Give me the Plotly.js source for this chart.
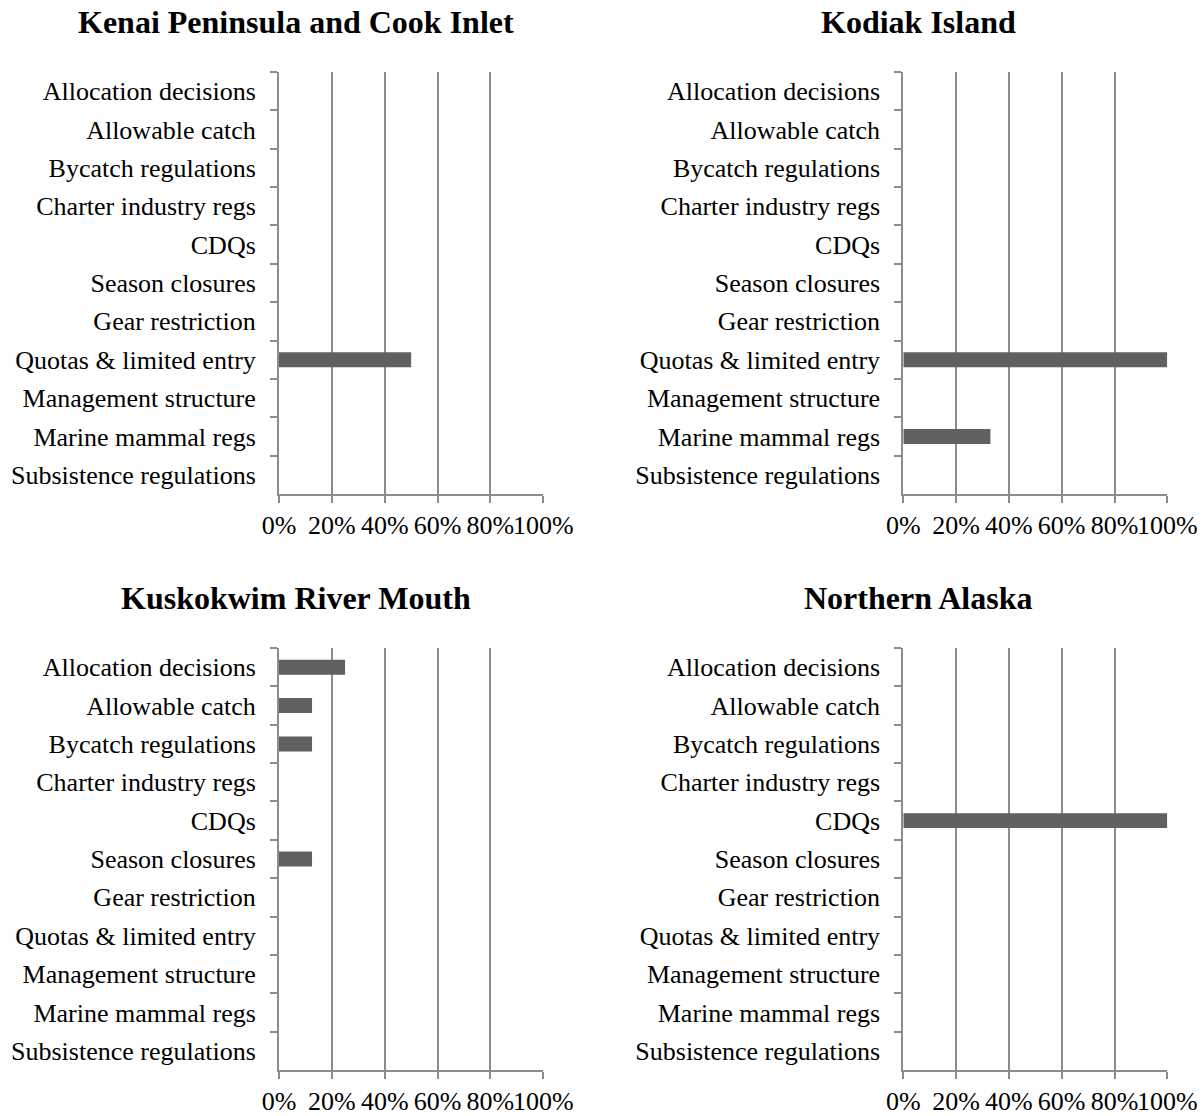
<!DOCTYPE html>
<html>
<head>
<meta charset="utf-8">
<script src="https://cdn.plot.ly/plotly-3.0.1.min.js"></script>
<style>html,body{margin:0;padding:0;background:#fff;}#chart{width:1204px;height:1116px;}</style>
</head>
<body>
<div id="chart"></div>
<script>
const categories = ["Allocation decisions","Allowable catch","Bycatch regulations","Charter industry regs","CDQs","Season closures","Gear restriction","Quotas & limited entry","Management structure","Marine mammal regs","Subsistence regulations"];
const panelTitles = ["Kenai Peninsula and Cook Inlet","Kodiak Island","Kuskokwim River Mouth","Northern Alaska"];
const kenai    = [0,0,0,0,0,0,0,0.50,0,0,0];
const kodiak   = [0,0,0,0,0,0,0,1.00,0,0.33,0];
const kusk     = [0.25,0.125,0.125,0,0,0.125,0,0,0,0,0];
const northern = [0,0,0,0,1.00,0,0,0,0,0,0];
const xTickVals = [0,0.2,0.4,0.6,0.8,1.0];
const xTickText = ["0%","20%","40%","60%","80%","100%"];

const series = [kenai, kodiak, kusk, northern];
const W = 1204, H = 1116;
const xDomains = [[279/W, 543.3/W],[903.3/W, 1167.3/W],[279/W, 543.3/W],[903.3/W, 1167.3/W]];
const yDomains = [[1-494/H, 1-72/H],[1-494/H, 1-72/H],[1-1070/H, 1-648/H],[1-1070/H, 1-648/H]];
const titleX = [296/W, 918/W, 296/W, 918/W];
const titleY = [1-22/H, 1-22/H, 1-598/H, 1-598/H];

const font = {family: "Liberation Serif, 'Times New Roman', serif", size: 26, color: "#000"};
const gridC = "#8c8c8c";
const data = [];
const layout = {
  width: W, height: H,
  margin: {l:0, r:0, t:0, b:0},
  paper_bgcolor: "#fff", plot_bgcolor: "#fff",
  showlegend: false,
  font: font,
  bargap: 0.61,
  annotations: []
};
series.forEach((vals, i) => {
  const n = i === 0 ? "" : String(i+1);
  data.push({
    type: "bar", orientation: "h",
    x: vals, y: categories,
    xaxis: "x" + n, yaxis: "y" + n,
    marker: {color: "#606060"},
    hoverinfo: "skip"
  });
  layout["xaxis" + n] = {
    domain: xDomains[i], anchor: "y" + n,
    range: [0, 1], tickvals: xTickVals, ticktext: xTickText,
    tickangle: 0,
    showgrid: true, gridcolor: gridC, gridwidth: 2,
    showline: true, linecolor: gridC, linewidth: 2,
    ticks: "outside", ticklen: 7, tickwidth: 2, tickcolor: gridC,
    zeroline: false, fixedrange: true,
    tickfont: font
  };
  layout["yaxis" + n] = {
    domain: yDomains[i], anchor: "x" + n,
    type: "category", categoryorder: "array", categoryarray: categories,
    autorange: "reversed",
    tickson: "boundaries",
    showline: true, linecolor: gridC, linewidth: 2,
    ticks: "outside", ticklen: 7, tickwidth: 2, tickcolor: gridC,
    showgrid: false, zeroline: false, fixedrange: true,
    tickfont: font, ticklabelstandoff: 16
  };
  layout.annotations.push({
    text: "<b>" + panelTitles[i] + "</b>",
    x: titleX[i], y: titleY[i], xref: "paper", yref: "paper",
    xanchor: "center", yanchor: "middle", showarrow: false,
    font: {family: font.family, size: 32, color: "#000"}
  });
});
Plotly.newPlot("chart", data, layout, {displayModeBar: false, staticPlot: true});
</script>
</body>
</html>
